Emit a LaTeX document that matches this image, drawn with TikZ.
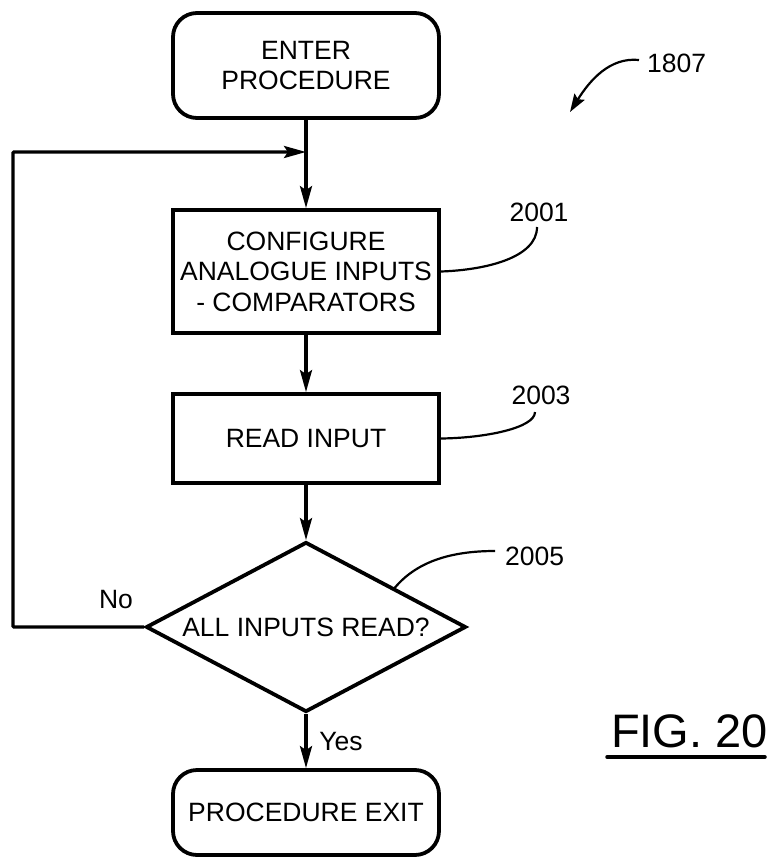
\documentclass[tikz,border=0pt]{standalone}
\usepackage{fontspec}
\setmainfont{Liberation Sans}
\usetikzlibrary{arrows.meta,shapes.geometric}
\begin{document}
\begin{tikzpicture}[x=1pt,y=-1pt,
  txt/.style={font=\fontsize{26.5}{30.5}\selectfont, align=center},
  lbl/.style={font=\fontsize{26.5}{30}\selectfont, inner sep=0},
  procbox/.style={txt, draw, line width=3.8pt, minimum width=266pt, inner sep=0},
  termbox/.style={procbox, rounded corners=24pt},
  decbox/.style={txt, draw, diamond, aspect=1.88, line width=3.8pt, minimum width=320pt, minimum height=170pt, inner sep=0},
  flow/.style={line width=3.2pt, -{Stealth[length=22pt,width=12pt,inset=4pt]}},
  lead/.style={line width=2.2pt},
]
\useasboundingbox (0,0) rectangle (771,858);
\node[termbox, minimum height=105pt] (enter) at (306,65.5) {ENTER\\PROCEDURE};
\node[procbox, minimum height=123pt] (cfg) at (306,271.5) {CONFIGURE\\ANALOGUE INPUTS\\- COMPARATORS};
\node[procbox, minimum height=89pt] (read) at (306,438.5) {READ INPUT};
\node[decbox] (dec) at (306,627) {ALL INPUTS READ?};
\node[termbox, minimum height=85pt] (exit) at (306,812.5) {PROCEDURE EXIT};

\coordinate (j) at (306,152);
\coordinate (lc) at (13,627);

\draw[flow] (enter.south) -- (cfg.north);
\draw[flow] (cfg.south) -- (read.north);
\draw[flow] (read.south) -- (dec.north);
\draw[flow] (dec.south) -- (exit.north);
\draw[flow, rounded corners=1pt] (dec.west) -- (lc) |- (j);

\node[lbl] (no) at (116,600) {No};
\node[lbl] (yes) at (341,742) {Yes};

\node[lbl, anchor=west] (n1807) at (647,63) {1807};
\coordinate (s1807) at (639,60);
\coordinate (t1807) at (570,112);
\draw[lead, -{Stealth[length=18pt,width=12pt,inset=3pt]}] (s1807) .. controls (610,57) and (590,80) .. (t1807);

\node[lbl] (n2001) at (539,212) {2001};
\coordinate (e2001) at (537,227);
\draw[lead] (cfg.east) .. controls (485,270) and (537,258) .. (e2001);

\node[lbl] (n2003) at (541,395) {2003};
\coordinate (e2003) at (535,412);
\draw[lead] (read.east) .. controls (485,438) and (535,428) .. (e2003);

\node[lbl, anchor=west] (n2005) at (505,556) {2005};
\coordinate (d2005) at (393,590);
\coordinate (e2005) at (495,551);
\draw[lead] (d2005) .. controls (415,562) and (450,551) .. (e2005);

\node[font=\fontsize{47}{50}\selectfont, inner sep=0, anchor=base west] (fig) at (611,747) {FIG. 20};
\coordinate (u1) at (607,757);
\coordinate (u2) at (765,757);
\draw[line width=3.5pt, line cap=round] (u1) -- (u2);
\end{tikzpicture}
\end{document}
